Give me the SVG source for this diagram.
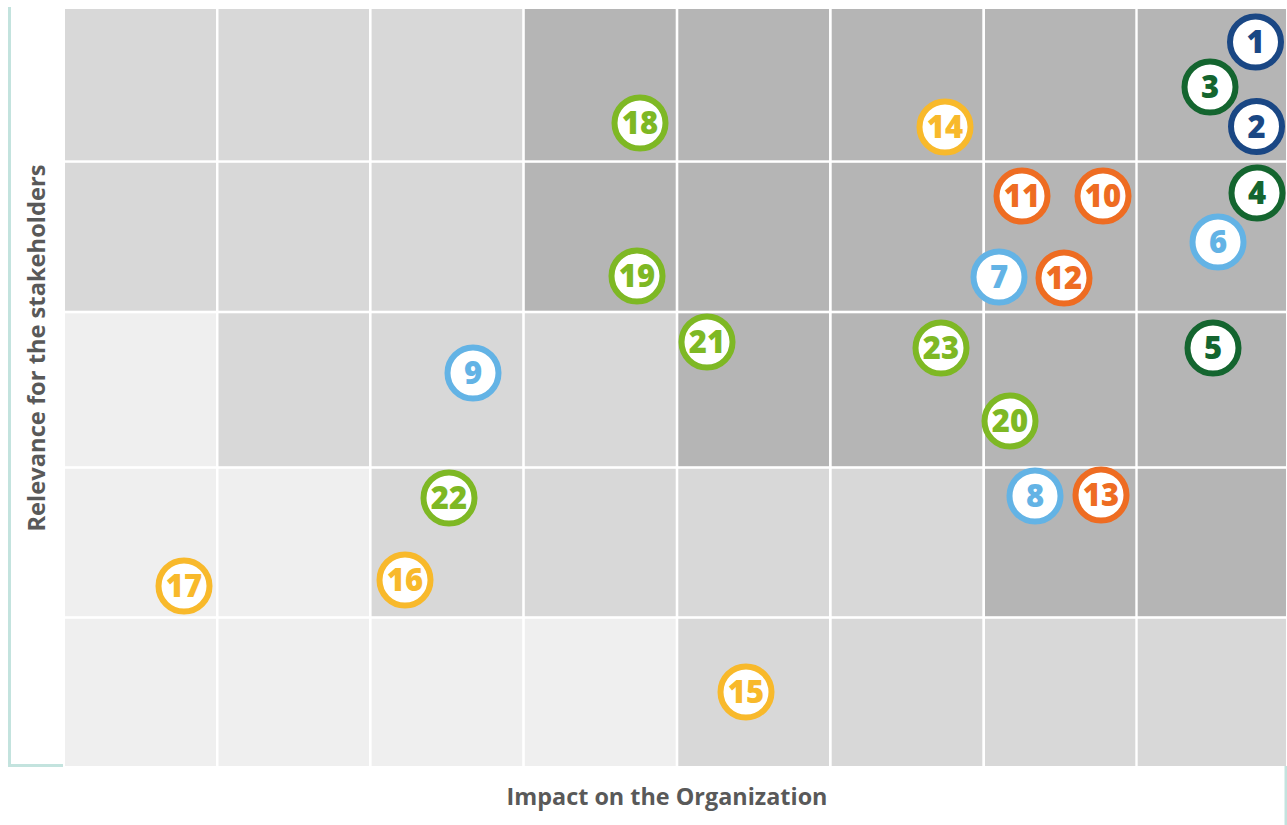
<svg xmlns="http://www.w3.org/2000/svg" width="1287" height="825" viewBox="0 0 1287 825">
<style>
.D{fill:#b5b5b5}.M{fill:#d8d8d8}.L{fill:#efefef}
.n circle{fill:#ffffff;stroke-width:6}
.n text{font-family:"Open Sans","DejaVu Sans",sans-serif;font-weight:800;font-size:31px;text-anchor:middle}
.navy circle{stroke:#1a4784}.navy text{fill:#1a4784}
.dg circle{stroke:#14652f}.dg text{fill:#14652f}
.lb circle{stroke:#63b3e5}.lb text{fill:#63b3e5}
.or circle{stroke:#ee6c22}.or text{fill:#ee6c22}
.lg circle{stroke:#7eb824}.lg text{fill:#7eb824}
.ye circle{stroke:#f8b92b}.ye text{fill:#f8b92b}
.ax{font-family:"Open Sans","DejaVu Sans",sans-serif;font-weight:700;font-size:23px;fill:#595959;text-anchor:middle}
.axl{stroke:#c3e3de;stroke-width:3;fill:none}
</style>
<rect width="1287" height="825" fill="#ffffff"/>
<g id="axes">
<polyline class="axl" points="9.5,7 9.5,765.5 63,765.5"/>
<line class="axl" x1="1286" y1="766" x2="1286" y2="825" stroke-width="2"/>
</g>
<g id="grid">
<rect class="M" x="65" y="9" width="151" height="151.3"/>
<rect class="M" x="218.5" y="9" width="150.5" height="151.3"/>
<rect class="M" x="371.6" y="9" width="150.6" height="151.3"/>
<rect class="D" x="524.8" y="9" width="150.9" height="151.3"/>
<rect class="D" x="678.3" y="9" width="150.7" height="151.3"/>
<rect class="D" x="831.7" y="9" width="150.6" height="151.3"/>
<rect class="D" x="985" y="9" width="150.3" height="151.3"/>
<rect class="D" x="1137.7" y="9" width="148.3" height="151.3"/>
<rect class="M" x="65" y="162.8" width="151" height="147.9"/>
<rect class="M" x="218.5" y="162.8" width="150.5" height="147.9"/>
<rect class="M" x="371.6" y="162.8" width="150.6" height="147.9"/>
<rect class="D" x="524.8" y="162.8" width="150.9" height="147.9"/>
<rect class="D" x="678.3" y="162.8" width="150.7" height="147.9"/>
<rect class="D" x="831.7" y="162.8" width="150.6" height="147.9"/>
<rect class="D" x="985" y="162.8" width="150.3" height="147.9"/>
<rect class="D" x="1137.7" y="162.8" width="148.3" height="147.9"/>
<rect class="L" x="65" y="313.3" width="151" height="152.9"/>
<rect class="M" x="218.5" y="313.3" width="150.5" height="152.9"/>
<rect class="M" x="371.6" y="313.3" width="150.6" height="152.9"/>
<rect class="M" x="524.8" y="313.3" width="150.9" height="152.9"/>
<rect class="D" x="678.3" y="313.3" width="150.7" height="152.9"/>
<rect class="D" x="831.7" y="313.3" width="150.6" height="152.9"/>
<rect class="D" x="985" y="313.3" width="150.3" height="152.9"/>
<rect class="D" x="1137.7" y="313.3" width="148.3" height="152.9"/>
<rect class="L" x="65" y="468.8" width="151" height="147.4"/>
<rect class="L" x="218.5" y="468.8" width="150.5" height="147.4"/>
<rect class="M" x="371.6" y="468.8" width="150.6" height="147.4"/>
<rect class="M" x="524.8" y="468.8" width="150.9" height="147.4"/>
<rect class="M" x="678.3" y="468.8" width="150.7" height="147.4"/>
<rect class="M" x="831.7" y="468.8" width="150.6" height="147.4"/>
<rect class="D" x="985" y="468.8" width="150.3" height="147.4"/>
<rect class="D" x="1137.7" y="468.8" width="148.3" height="147.4"/>
<rect class="L" x="65" y="618.8" width="151" height="147.2"/>
<rect class="L" x="218.5" y="618.8" width="150.5" height="147.2"/>
<rect class="L" x="371.6" y="618.8" width="150.6" height="147.2"/>
<rect class="L" x="524.8" y="618.8" width="150.9" height="147.2"/>
<rect class="M" x="678.3" y="618.8" width="150.7" height="147.2"/>
<rect class="M" x="831.7" y="618.8" width="150.6" height="147.2"/>
<rect class="M" x="985" y="618.8" width="150.3" height="147.2"/>
<rect class="M" x="1137.7" y="618.8" width="148.3" height="147.2"/>
</g>
<g id="labels">
<text class="ax" x="667" y="805" textLength="321" lengthAdjust="spacingAndGlyphs">Impact on the Organization</text>
<text class="ax" transform="translate(45,348) rotate(-90)" x="0" y="0" textLength="367" lengthAdjust="spacingAndGlyphs">Relevance for the stakeholders</text>
</g>
<g id="n1" class="n navy"><circle cx="1255.5" cy="42" r="25.5"/><text x="1255.5" y="53">1</text></g>
<g id="n2" class="n navy"><circle cx="1256.5" cy="126.5" r="25.5"/><text x="1256.5" y="137.5">2</text></g>
<g id="n3" class="n dg"><circle cx="1210" cy="87" r="25.5"/><text x="1210" y="98">3</text></g>
<g id="n4" class="n dg"><circle cx="1257" cy="193" r="25.5"/><text x="1257" y="204">4</text></g>
<g id="n5" class="n dg"><circle cx="1213" cy="348" r="25.5"/><text x="1213" y="359">5</text></g>
<g id="n6" class="n lb"><circle cx="1218" cy="242" r="25.5"/><text x="1218" y="253">6</text></g>
<g id="n7" class="n lb"><circle cx="999" cy="277" r="25.5"/><text x="999" y="288">7</text></g>
<g id="n8" class="n lb"><circle cx="1035" cy="496" r="25.5"/><text x="1035" y="507">8</text></g>
<g id="n9" class="n lb"><circle cx="473" cy="373" r="25.5"/><text x="473" y="384">9</text></g>
<g id="n10" class="n or"><circle cx="1103" cy="196" r="25.5"/><text x="1103" y="207">10</text></g>
<g id="n11" class="n or"><circle cx="1022" cy="196" r="25.5"/><text x="1022" y="207">11</text></g>
<g id="n12" class="n or"><circle cx="1064" cy="278" r="25.5"/><text x="1064" y="289">12</text></g>
<g id="n13" class="n or"><circle cx="1101" cy="495" r="25.5"/><text x="1101" y="506">13</text></g>
<g id="n14" class="n ye"><circle cx="945" cy="127" r="25.5"/><text x="945" y="138">14</text></g>
<g id="n15" class="n ye"><circle cx="746" cy="692" r="25.5"/><text x="746" y="703">15</text></g>
<g id="n16" class="n ye"><circle cx="405" cy="580" r="25.5"/><text x="405" y="591">16</text></g>
<g id="n17" class="n ye"><circle cx="184" cy="586" r="25.5"/><text x="184" y="597">17</text></g>
<g id="n18" class="n lg"><circle cx="640" cy="123" r="25.5"/><text x="640" y="134">18</text></g>
<g id="n19" class="n lg"><circle cx="637" cy="276" r="25.5"/><text x="637" y="287">19</text></g>
<g id="n20" class="n lg"><circle cx="1010" cy="421" r="25.5"/><text x="1010" y="432">20</text></g>
<g id="n21" class="n lg"><circle cx="707" cy="342" r="25.5"/><text x="707" y="353">21</text></g>
<g id="n22" class="n lg"><circle cx="449" cy="498" r="25.5"/><text x="449" y="509">22</text></g>
<g id="n23" class="n lg"><circle cx="941" cy="348" r="25.5"/><text x="941" y="359">23</text></g>
</svg>
